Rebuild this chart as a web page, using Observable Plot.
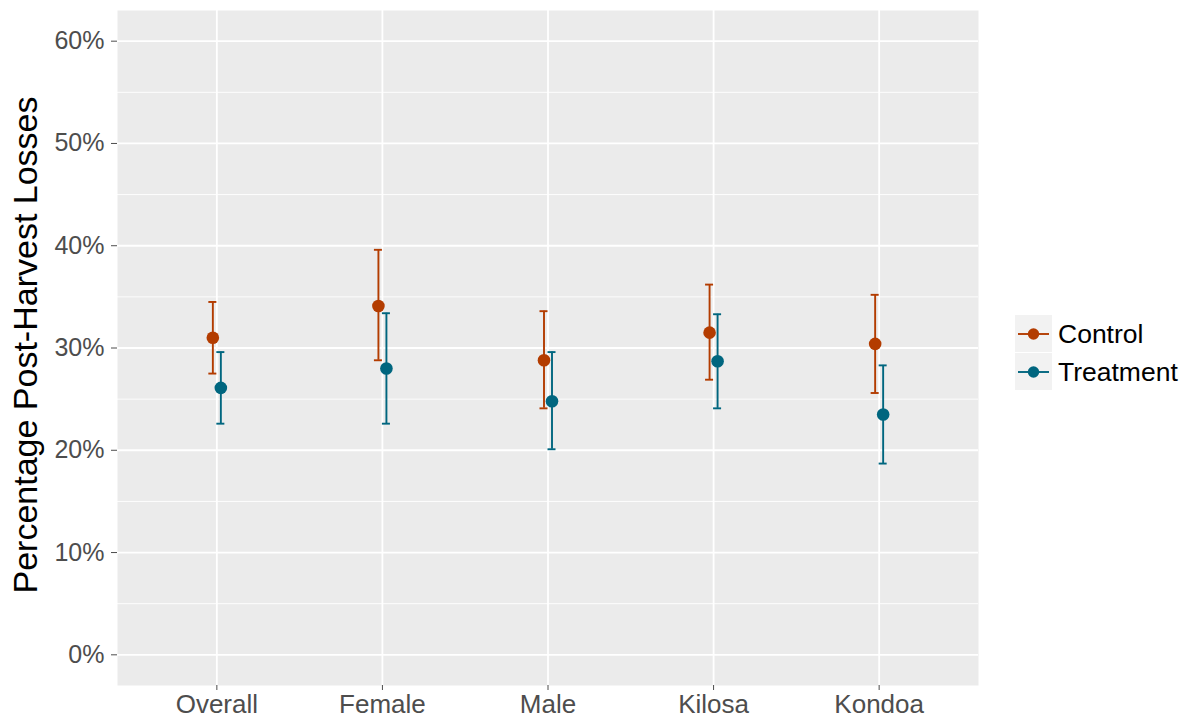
<!DOCTYPE html>
<html><head><meta charset="utf-8">
<script src="https://cdn.jsdelivr.net/npm/d3@7"></script>
<script src="https://cdn.jsdelivr.net/npm/@observablehq/plot@0.6"></script>
<style>
body{margin:0;background:#fff;}
#wrap{position:relative;width:1187px;height:720px;font-family:"Liberation Sans",Arial,sans-serif;overflow:hidden;}
#chart{position:absolute;left:0;top:0;}
#ytitle{position:absolute;left:25px;top:345px;transform:translate(-50%,-50%) rotate(-90deg);white-space:nowrap;font-size:34px;color:#000;line-height:1;}
#legend{position:absolute;left:1015px;top:315px;}
</style></head><body>
<div id="wrap"><div id="chart"></div><div id="ytitle">Percentage Post-Harvest Losses</div><div id="legend"></div></div>
<script>
const categories = ["Overall","Female","Male","Kilosa","Kondoa"];
const groups = ["Control","Treatment"];
const groupColors = ["#B33C00","#00667F"];
const controlMean = [31.0,34.1,28.8,31.5,30.4];
const controlLow  = [27.5,28.8,24.1,26.9,25.6];
const controlHigh = [34.5,39.6,33.6,36.2,35.2];
const treatmentMean = [26.1,28.0,24.8,28.7,23.5];
const treatmentLow  = [22.6,22.6,20.1,24.1,18.7];
const treatmentHigh = [29.6,33.4,29.6,33.3,28.3];
const yTicks = [0,10,20,30,40,50,60];
const yMinorTicks = [5,15,25,35,45,55];

const series = {
  Control: {mean: controlMean, low: controlLow, high: controlHigh},
  Treatment: {mean: treatmentMean, low: treatmentLow, high: treatmentHigh}
};
const dodge = {Control: -4, Treatment: 4};

const groupMarks = groups.flatMap((g, gi) => {
  const rows = categories.map((c, i) => ({cat: c, mean: series[g].mean[i], low: series[g].low[i], high: series[g].high[i]}));
  const col = groupColors[gi];
  const dx = dodge[g];
  return [
    Plot.ruleX(rows, {x: "cat", y1: "low", y2: "high", stroke: col, strokeWidth: 1.9, dx}),
    Plot.tickY(rows, {x: "cat", y: "low", stroke: col, strokeWidth: 1.9, dx}),
    Plot.tickY(rows, {x: "cat", y: "high", stroke: col, strokeWidth: 1.9, dx}),
    Plot.dot(rows, {x: "cat", y: "mean", r: 6.3, fill: col, stroke: null, dx})
  ];
});

const chart = Plot.plot({
  width: 1000,
  height: 720,
  marginLeft: 117,
  marginRight: 22,
  marginTop: 10,
  marginBottom: 35,
  style: {fontFamily: '"Liberation Sans", Arial, sans-serif', background: "transparent", overflow: "visible"},
  x: {type: "band", domain: categories, paddingInner: 0.9516, paddingOuter: 0.5758, align: 0.5, round: false},
  y: {domain: [-3, 63]},
  marks: [
    Plot.frame({fill: "#EBEBEB", stroke: null}),
    Plot.gridY(yMinorTicks, {stroke: "#fff", strokeOpacity: 1, strokeWidth: 0.9}),
    Plot.gridY(yTicks, {stroke: "#fff", strokeOpacity: 1, strokeWidth: 1.8}),
    Plot.gridX(categories, {stroke: "#fff", strokeOpacity: 1, strokeWidth: 1.8}),
    Plot.axisY(yTicks, {tickFormat: d => d + "%", tickSize: 6, tickPadding: 7, fontSize: 25, color: "#4d4d4d", label: null}),
    Plot.axisX(categories, {tickSize: 5, tickPadding: 4.5, fontSize: 26, color: "#4d4d4d", label: null}),
    ...groupMarks
  ]
});
document.getElementById("chart").appendChild(chart);

// legend
const ns = "http://www.w3.org/2000/svg";
const lg = document.createElementNS(ns, "svg");
lg.setAttribute("width", 172); lg.setAttribute("height", 78);
groups.forEach((g, i) => {
  const y0 = i * 38;
  const mid = y0 + 19;
  const rect = document.createElementNS(ns, "rect");
  rect.setAttribute("x", 0); rect.setAttribute("y", y0); rect.setAttribute("width", 37); rect.setAttribute("height", 37);
  rect.setAttribute("fill", "#F2F2F2");
  lg.appendChild(rect);
  const line = document.createElementNS(ns, "line");
  line.setAttribute("x1", 3); line.setAttribute("x2", 34); line.setAttribute("y1", mid); line.setAttribute("y2", mid);
  line.setAttribute("stroke", groupColors[i]); line.setAttribute("stroke-width", 1.9);
  lg.appendChild(line);
  const c = document.createElementNS(ns, "circle");
  c.setAttribute("cx", 18.5); c.setAttribute("cy", mid); c.setAttribute("r", 5.7); c.setAttribute("fill", groupColors[i]);
  lg.appendChild(c);
  const t = document.createElementNS(ns, "text");
  t.setAttribute("x", 43); t.setAttribute("y", mid); t.setAttribute("dy", "0.35em");
  t.setAttribute("font-size", 26.5); t.setAttribute("fill", "#000");
  t.setAttribute("font-family", '"Liberation Sans", Arial, sans-serif');
  t.textContent = g;
  lg.appendChild(t);
});
document.getElementById("legend").appendChild(lg);
</script>
</body></html>
